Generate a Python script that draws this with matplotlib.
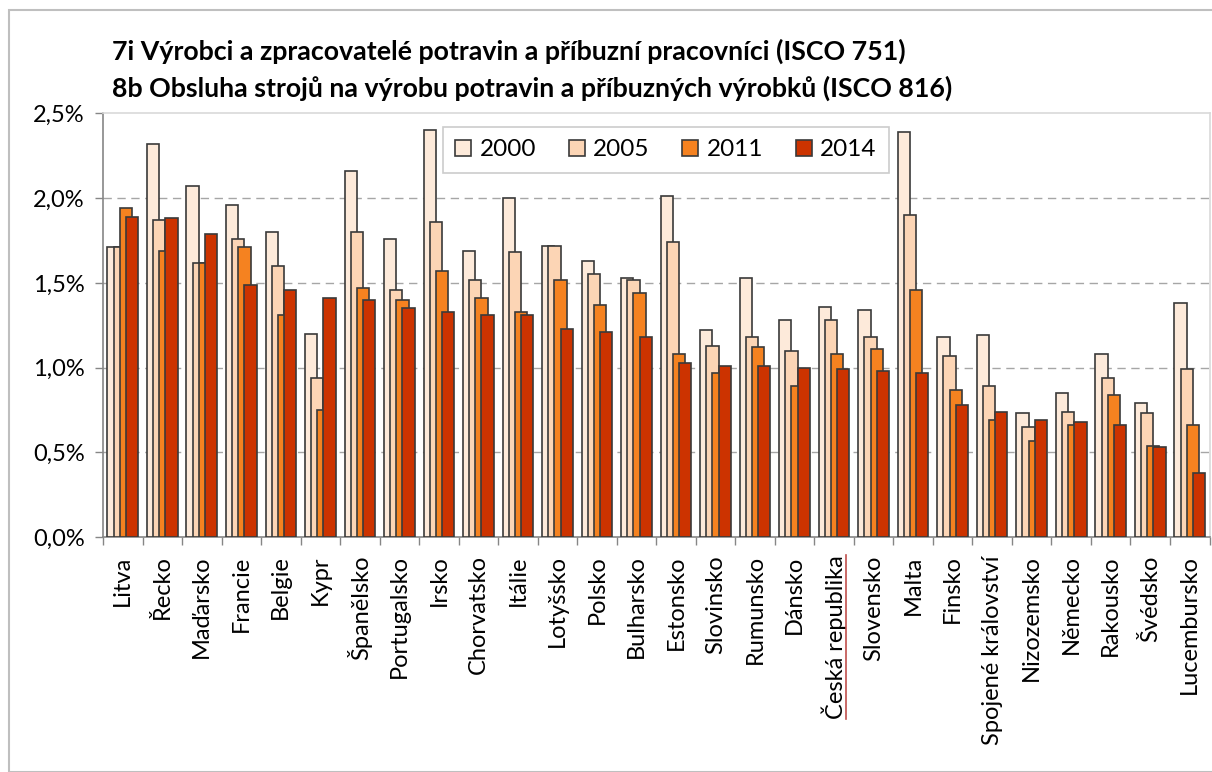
import numpy as np
import matplotlib
matplotlib.use("Agg")
import matplotlib.pyplot as plt
from matplotlib.patches import Rectangle
from matplotlib.lines import Line2D
from matplotlib.ticker import FuncFormatter, MultipleLocator

plt.rcParams['font.family'] = ['Lato', 'DejaVu Sans']

countries = ["Litva", "Řecko", "Maďarsko", "Francie", "Belgie", "Kypr", "Španělsko",
             "Portugalsko", "Irsko", "Chorvatsko", "Itálie", "Lotyšsko", "Polsko",
             "Bulharsko", "Estonsko", "Slovinsko", "Rumunsko", "Dánsko",
             "Česká republika", "Slovensko", "Malta", "Finsko", "Spojené království",
             "Nizozemsko", "Německo", "Rakousko", "Švédsko", "Lucembursko"]

y2000 = [1.71, 2.32, 2.07, 1.96, 1.80, 1.20, 2.16, 1.76, 2.40, 1.69, 2.00, 1.72, 1.63,
         1.53, 2.01, 1.22, 1.53, 1.28, 1.36, 1.34, 2.39, 1.18, 1.19, 0.73, 0.85, 1.08,
         0.79, 1.38]
y2005 = [1.71, 1.87, 1.62, 1.76, 1.60, 0.94, 1.80, 1.46, 1.86, 1.52, 1.68, 1.72, 1.55,
         1.52, 1.74, 1.13, 1.18, 1.10, 1.28, 1.18, 1.90, 1.07, 0.89, 0.65, 0.74, 0.94,
         0.73, 0.99]
y2011 = [1.94, 1.69, 1.62, 1.71, 1.31, 0.75, 1.47, 1.40, 1.57, 1.41, 1.33, 1.52, 1.37,
         1.44, 1.08, 0.97, 1.12, 0.89, 1.08, 1.11, 1.46, 0.87, 0.69, 0.57, 0.66, 0.84,
         0.54, 0.66]
y2014 = [1.89, 1.88, 1.79, 1.49, 1.46, 1.41, 1.40, 1.35, 1.33, 1.31, 1.31, 1.23, 1.21,
         1.18, 1.03, 1.01, 1.01, 1.00, 0.99, 0.98, 0.97, 0.78, 0.74, 0.69, 0.68, 0.66,
         0.53, 0.38]

years = ["2000", "2005", "2011", "2014"]
series = [y2000, y2005, y2011, y2014]
colors = ["#FDEADA", "#FCD5B5", "#F58220", "#CC3300"]

W, H = 1212, 772
fig = plt.figure(figsize=(W / 100, H / 100), dpi=100)

# outer chart border
fig.patches.append(Rectangle((9 / W, 0), 1.2, 1 - 10 / H, transform=fig.transFigure,
                             fill=False, edgecolor="#BFBFBF", lw=1.5))

ax = fig.add_axes([103 / W, (H - 537.3) / H, (1209.5 - 103) / W, (537.3 - 113.3) / H])

x = np.arange(len(countries))
w = 0.31
step = 0.155
for i, (yr, vals, c) in enumerate(zip(years, series, colors)):
    ax.bar(x + (i - 1.5) * step, vals, width=w, color=c, edgecolor="#3A3A3A",
           linewidth=1.2, label=yr, zorder=3 + i)

ax.set_xlim(-0.5, len(countries) - 0.5)
ax.set_ylim(0, 2.5)
ax.yaxis.set_major_locator(MultipleLocator(0.5))
ax.yaxis.set_major_formatter(FuncFormatter(lambda v, p: f"{v:.1f}%".replace(".", ",")))
for g in [0.5, 1.0, 1.5, 2.0]:
    ax.axhline(g, color="#A6A6A6", lw=1.0, ls=(0, (6, 4)), zorder=1)

ax.set_xticks(x)
ax.set_xticklabels(countries, rotation=90, va="top", ha="center")
ax.set_xticks(np.arange(len(countries) + 1) - 0.5, minor=True)
ax.tick_params(axis="x", which="major", length=0, pad=13, labelsize=17)
ax.tick_params(axis="x", which="minor", length=6, color="#868686", width=1)
ax.tick_params(axis="y", length=6, color="#868686", width=1, labelsize=17, pad=7)

for s in ["top", "right"]:
    ax.spines[s].set_color("#D9D9D9")
    ax.spines[s].set_linewidth(1.2)
for s in ["left", "bottom"]:
    ax.spines[s].set_color("#868686")
    ax.spines[s].set_linewidth(1.2)

fig.text(112 / W, 1 - 51 / H, "7i Výrobci a zpracovatelé potravin a příbuzní pracovníci (ISCO 751)",
         fontsize=19.3, fontweight="bold", va="center", ha="left")
fig.text(112 / W, 1 - 88 / H, "8b Obsluha strojů na výrobu potravin a příbuzných výrobků (ISCO 816)",
         fontsize=19.3, fontweight="bold", va="center", ha="left")

leg = ax.legend(ncol=4, loc="center", bbox_to_anchor=(666 / W, 1 - 150 / H),
                bbox_transform=fig.transFigure, fontsize=17.5, frameon=True, fancybox=False,
                handlelength=0.65, handleheight=0.65, handletextpad=0.35, columnspacing=1.35,
                borderpad=0.5, borderaxespad=0)
leg.get_frame().set_edgecolor("#BFBFBF")
leg.get_frame().set_linewidth(1.2)
leg.set_zorder(10)

# red underline of the Czech label
fig.canvas.draw()
r = fig.canvas.get_renderer()
for lab in ax.get_xticklabels():
    if lab.get_text() == "Česká republika":
        bb = lab.get_window_extent(r)
        fig.add_artist(Line2D([(bb.x1 - 1) / W] * 2, [bb.y0 / H, bb.y1 / H],
                              transform=fig.transFigure, color="#C0504D", lw=1.2))

fig.savefig("out.png", dpi=100)
